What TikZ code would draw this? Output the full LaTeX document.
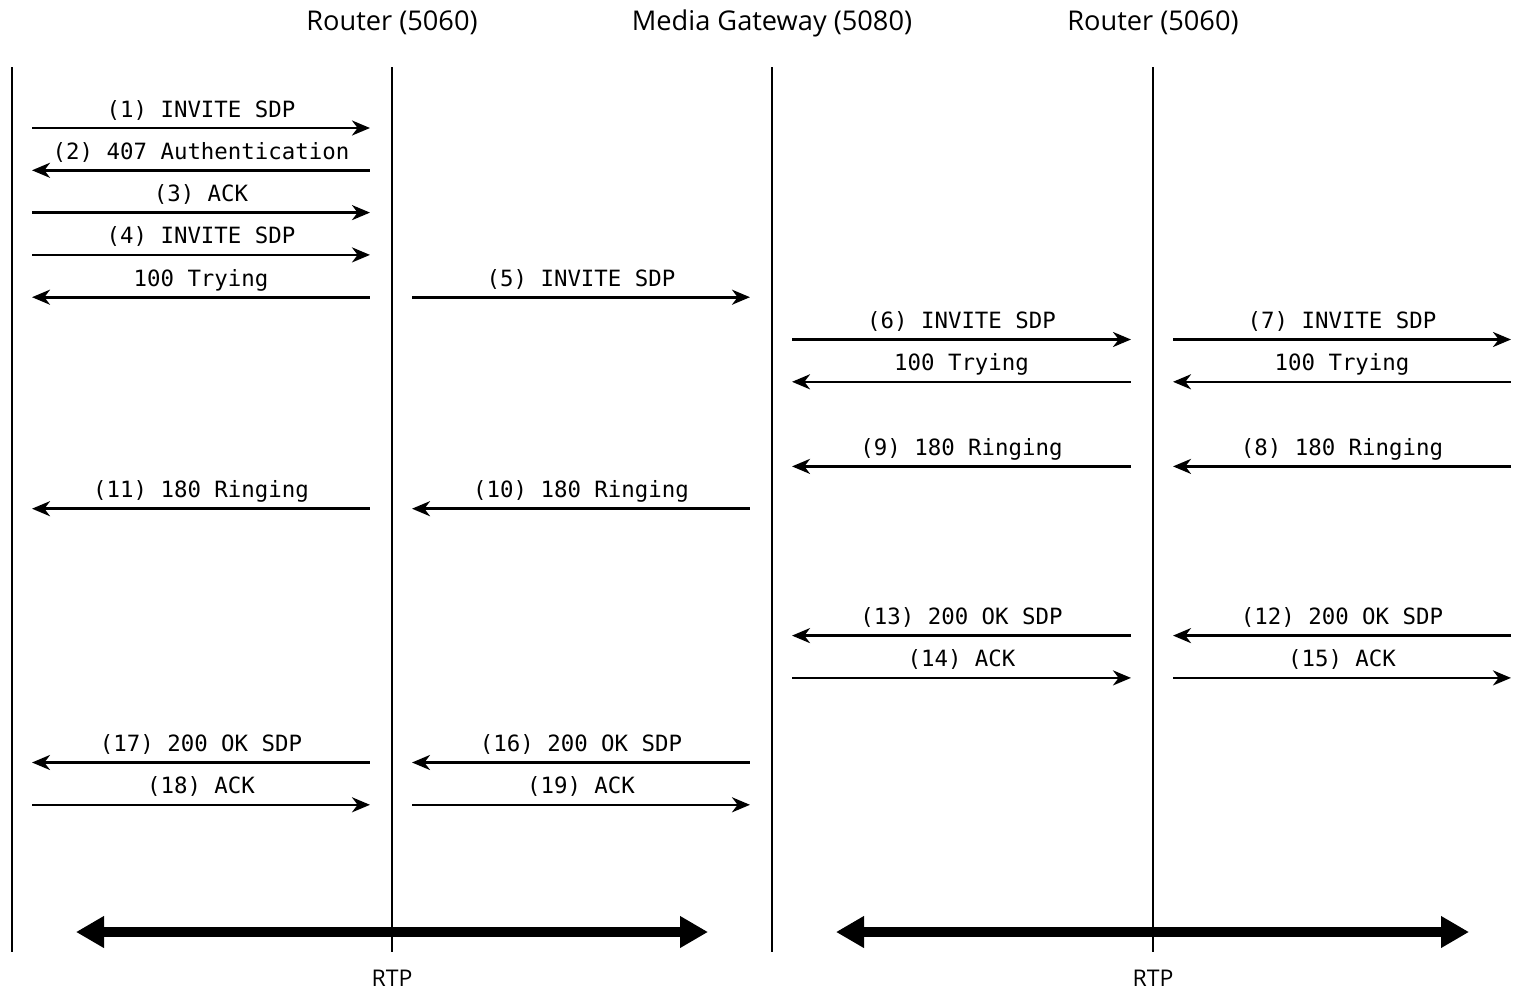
\documentclass[tikz,border=0pt]{standalone}
\usepackage{fontspec}
\setmainfont{Open Sans}
\newfontfamily\msgfont{DejaVu Sans Mono}
\usetikzlibrary{arrows.meta,calc}

\begin{document}
\begin{tikzpicture}[x=0.5pt,y=-0.5pt]
    \tikzstyle{every node} = [font=\fontsize{13.6}{16}\selectfont]
    \tikzstyle{life} = [line width=0.6pt]
    \tikzstyle{msg} = [line width=1.3pt]
    \tikzstyle{fwd} = [-{Stealth[length=9pt,width=7.5pt,inset=2.8pt]}]
    \tikzstyle{bwd} = [{Stealth[length=9pt,width=7.5pt,inset=2.8pt]}-]
    \tikzstyle{msgtxt} = [font=\msgfont\fontsize{11.2}{13}\selectfont, anchor=base, yshift=5.5pt, inner sep=0pt]
    \tikzstyle{rtp} = [line width=5pt, {Triangle[length=14pt,width=15pt]}-{Triangle[length=14pt,width=15pt]}]
    \useasboundingbox (0,0) rectangle (1516,991);
    % place nodes
    \coordinate (lA) at (12,67);
    \coordinate (lB) at (392,67);
    \coordinate (lC) at (772,67);
    \coordinate (lD) at (1153,67);
    \coordinate (lE) at (1533,67);
    \node (hB) at (lB |- 0,23) {Router (5060)};
    \node (hC) at (lC |- 0,23) {Media Gateway (5080)};
    \node (hD) at (lD |- 0,23) {Router (5060)};
    \node[font=\fontsize{11.5}{13}\selectfont] (rtpB) at (lB |- 0,978) {RTP};
    \node[font=\fontsize{11.5}{13}\selectfont] (rtpD) at (lD |- 0,978) {RTP};
    % Lifelines
    \foreach \l in {lA,lB,lC,lD}
      \draw[life] (\l) -- ++(0,885);
    % Messages
    \foreach \k/\a/\b/\d/\txt in {
        0/lA/lB/fwd/{(1) INVITE SDP},
        1/lA/lB/bwd/{(2) 407 Authentication},
        2/lA/lB/fwd/{(3) ACK},
        3/lA/lB/fwd/{(4) INVITE SDP},
        4/lA/lB/bwd/{100 Trying},
        4/lB/lC/fwd/{(5) INVITE SDP},
        5/lC/lD/fwd/{(6) INVITE SDP},
        5/lD/lE/fwd/{(7) INVITE SDP},
        6/lC/lD/bwd/{100 Trying},
        6/lD/lE/bwd/{100 Trying},
        8/lC/lD/bwd/{(9) 180 Ringing},
        8/lD/lE/bwd/{(8) 180 Ringing},
        9/lA/lB/bwd/{(11) 180 Ringing},
        9/lB/lC/bwd/{(10) 180 Ringing},
        12/lC/lD/bwd/{(13) 200 OK SDP},
        12/lD/lE/bwd/{(12) 200 OK SDP},
        13/lC/lD/fwd/{(14) ACK},
        13/lD/lE/fwd/{(15) ACK},
        15/lA/lB/bwd/{(17) 200 OK SDP},
        15/lB/lC/bwd/{(16) 200 OK SDP},
        16/lA/lB/fwd/{(18) ACK},
        16/lB/lC/fwd/{(19) ACK}}
      \draw[msg,\d] ($(\a)+(20,61+42.3*\k)$) -- node[msgtxt]{\txt} ($(\b)+(-22,61+42.3*\k)$);
    % RTP streams
    \coordinate (rB1) at ($(lB)+(-316,865)$);
    \coordinate (rB2) at ($(lB)+(316,865)$);
    \coordinate (rD1) at ($(lD)+(-317,865)$);
    \coordinate (rD2) at ($(lD)+(316,865)$);
    \draw[rtp] (rB1) -- (rB2);
    \draw[rtp] (rD1) -- (rD2);
\end{tikzpicture}
\end{document}
